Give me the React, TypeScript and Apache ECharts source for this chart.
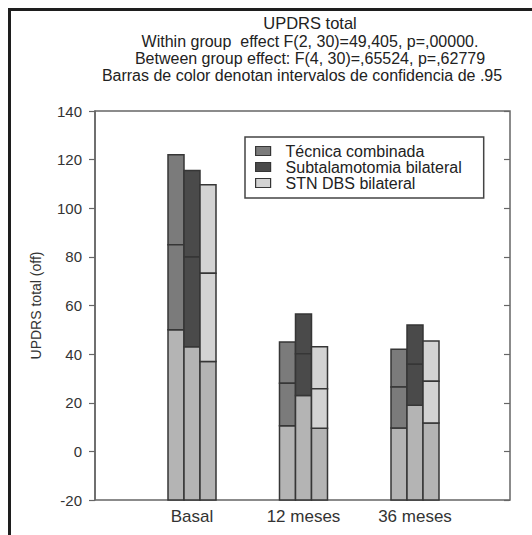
import React, { useEffect, useRef } from "react";
import * as echarts from "echarts";

const categories = ["Basal", "12 meses", "36 meses"];
const seriesNames = ["Técnica combinada", "Subtalamotomia bilateral", "STN DBS bilateral"];
// 95% CI lower bound, mean, upper bound per group
const tecnicaLower = [50, 10.5, 9.6];
const tecnicaMean = [85, 28, 26.5];
const tecnicaUpper = [122, 45, 42];
const subtalLower = [43, 23, 19];
const subtalMean = [80, 40.2, 35.8];
const subtalUpper = [115.5, 56.5, 52];
const stnLower = [37, 9.5, 11.7];
const stnMean = [73.3, 25.8, 28.8];
const stnUpper = [109.7, 43, 45.4];
const yTicks = [-20, 0, 20, 40, 60, 80, 100, 120, 140];
const titleLines = [
  "UPDRS total",
  "Within group  effect F(2, 30)=49,405, p=,00000.",
  "Between group effect: F(4, 30)=,65524, p=,62779",
  "Barras de color denotan intervalos de confidencia de .95",
];
const yAxisName = "UPDRS total (off)";

const lowers = [tecnicaLower, subtalLower, stnLower];
const means = [tecnicaMean, subtalMean, stnMean];
const uppers = [tecnicaUpper, subtalUpper, stnUpper];
const colors = ["#7b7b7b", "#4a4a4a", "#d3d3d3"];
const BASE_COLOR = "#b4b4b4";
const EDGE = "#363636";
const FONT = "Liberation Sans, Arial, sans-serif";
const Y_MIN = yTicks[0];
const Y_MAX = yTicks[yTicks.length - 1];
const BAR_FRACTION = 16 / 111.5;

export default function App() {
  const ref = useRef<HTMLDivElement>(null);
  useEffect(() => {
    if (!ref.current) return;
    const chart = echarts.init(ref.current, null, { renderer: "svg" });
    const titleY = [23, 41, 58, 75];
    const titleX = [310, 310, 310, 302];
    const titleSize = [16.5, 16, 16, 16];
    const series = seriesNames.map((name, k) => ({
      type: "custom",
      name,
      xAxisIndex: 1,
      yAxisIndex: 2,
      itemStyle: { color: colors[k], borderColor: EDGE, borderWidth: 1.2 },
      encode: { x: 0, y: [1, 2, 3] },
      data: categories.map((_, i) => [i, lowers[k][i], means[k][i], uppers[k][i]]),
      renderItem: (params: any, api: any) => {
        const ci = api.value(0);
        const lo = api.value(1);
        const mn = api.value(2);
        const up = api.value(3);
        const band = api.size([1, 0])[0];
        const w = band * BAR_FRACTION;
        const cx = api.coord([ci, mn])[0] + (k - 1) * w;
        const x = cx - w / 2;
        const yb = api.coord([ci, Y_MIN])[1];
        const yl = api.coord([ci, lo])[1];
        const ym = api.coord([ci, mn])[1];
        const yu = api.coord([ci, up])[1];
        const st = { stroke: EDGE, lineWidth: 1.5 };
        return {
          type: "group",
          children: [
            { type: "rect", shape: { x, y: yl, width: w, height: yb - yl }, style: { fill: BASE_COLOR, ...st } },
            { type: "rect", shape: { x, y: yu, width: w, height: ym - yu }, style: { fill: colors[k], ...st } },
            { type: "rect", shape: { x, y: ym, width: w, height: yl - ym }, style: { fill: colors[k], ...st } },
          ],
        };
      },
    }));

    chart.setOption({
      animation: false,
      backgroundColor: "#ffffff",
      title: titleLines.map((t, i) => ({
        text: t,
        left: titleX[i],
        top: titleY[i],
        padding: 0,
        textAlign: "center",
        textVerticalAlign: "middle",
        textStyle: { fontSize: titleSize[i], lineHeight: titleSize[i], fontWeight: "normal", color: "#222", fontFamily: FONT },
      })),
      graphic: [
        {
          type: "rect",
          shape: { x: 9.5, y: 9.5, width: 700, height: 700 },
          style: { fill: "none", stroke: "#1e1e1e", lineWidth: 3 },
          silent: true,
        },
      ],
      legend: {
        orient: "vertical",
        left: 245,
        top: 137,
        padding: [6, 22, 7, 10],
        backgroundColor: "#ffffff",
        borderColor: "#444",
        borderWidth: 1.5,
        itemWidth: 25,
        itemHeight: 9,
        itemGap: 0,
        icon: "path://M0,0L15,0L15,9L0,9ZM25,4.5L25,4.5",
        itemStyle: { borderColor: EDGE, borderWidth: 1.2 },
        textStyle: { fontSize: 16, lineHeight: 16, color: "#222", fontFamily: FONT },
        data: seriesNames,
        z: 10,
      },
      grid: [
        { left: 95, top: 111, width: 415, height: 389, show: true, borderColor: "#666", borderWidth: 1.5, backgroundColor: "transparent" },
        { left: 136.25, top: 111, width: 334.5, height: 389 },
      ],
      xAxis: [
        { type: "value", gridIndex: 0, min: 0, max: 1, show: false },
        {
          type: "category",
          gridIndex: 1,
          data: categories,
          axisLine: { show: false },
          axisTick: { show: false },
          axisLabel: { fontSize: 17, color: "#333", margin: 8, fontFamily: FONT },
        },
      ],
      yAxis: [
        {
          type: "value",
          gridIndex: 0,
          min: Y_MIN,
          max: Y_MAX,
          interval: 20,
          axisLine: { show: true, lineStyle: { color: "#666", width: 1.5 } },
          axisTick: { show: true, length: 6, lineStyle: { color: "#666", width: 1.2 } },
          axisLabel: { fontSize: 15, color: "#333", margin: 13, fontFamily: FONT },
          splitLine: { show: false },
          name: yAxisName,
          nameLocation: "middle",
          nameRotate: 90,
          nameGap: 52,
          nameTextStyle: { fontSize: 14, color: "#333", fontFamily: FONT, padding: [0, 0, 0, 0] },
        },
        {
          type: "value",
          gridIndex: 0,
          position: "right",
          min: Y_MIN,
          max: Y_MAX,
          interval: 20,
          axisLine: { show: false },
          axisTick: { show: true, inside: true, length: 6, lineStyle: { color: "#666", width: 1.2 } },
          axisLabel: { show: false },
          splitLine: { show: false },
        },
        { type: "value", gridIndex: 1, min: Y_MIN, max: Y_MAX, show: false, splitLine: { show: false } },
      ],
      series,
    });
    return () => chart.dispose();
  }, []);
  return <div ref={ref} style={{ position: "fixed", left: 0, top: 0, width: 532, height: 535 }} />;
}
